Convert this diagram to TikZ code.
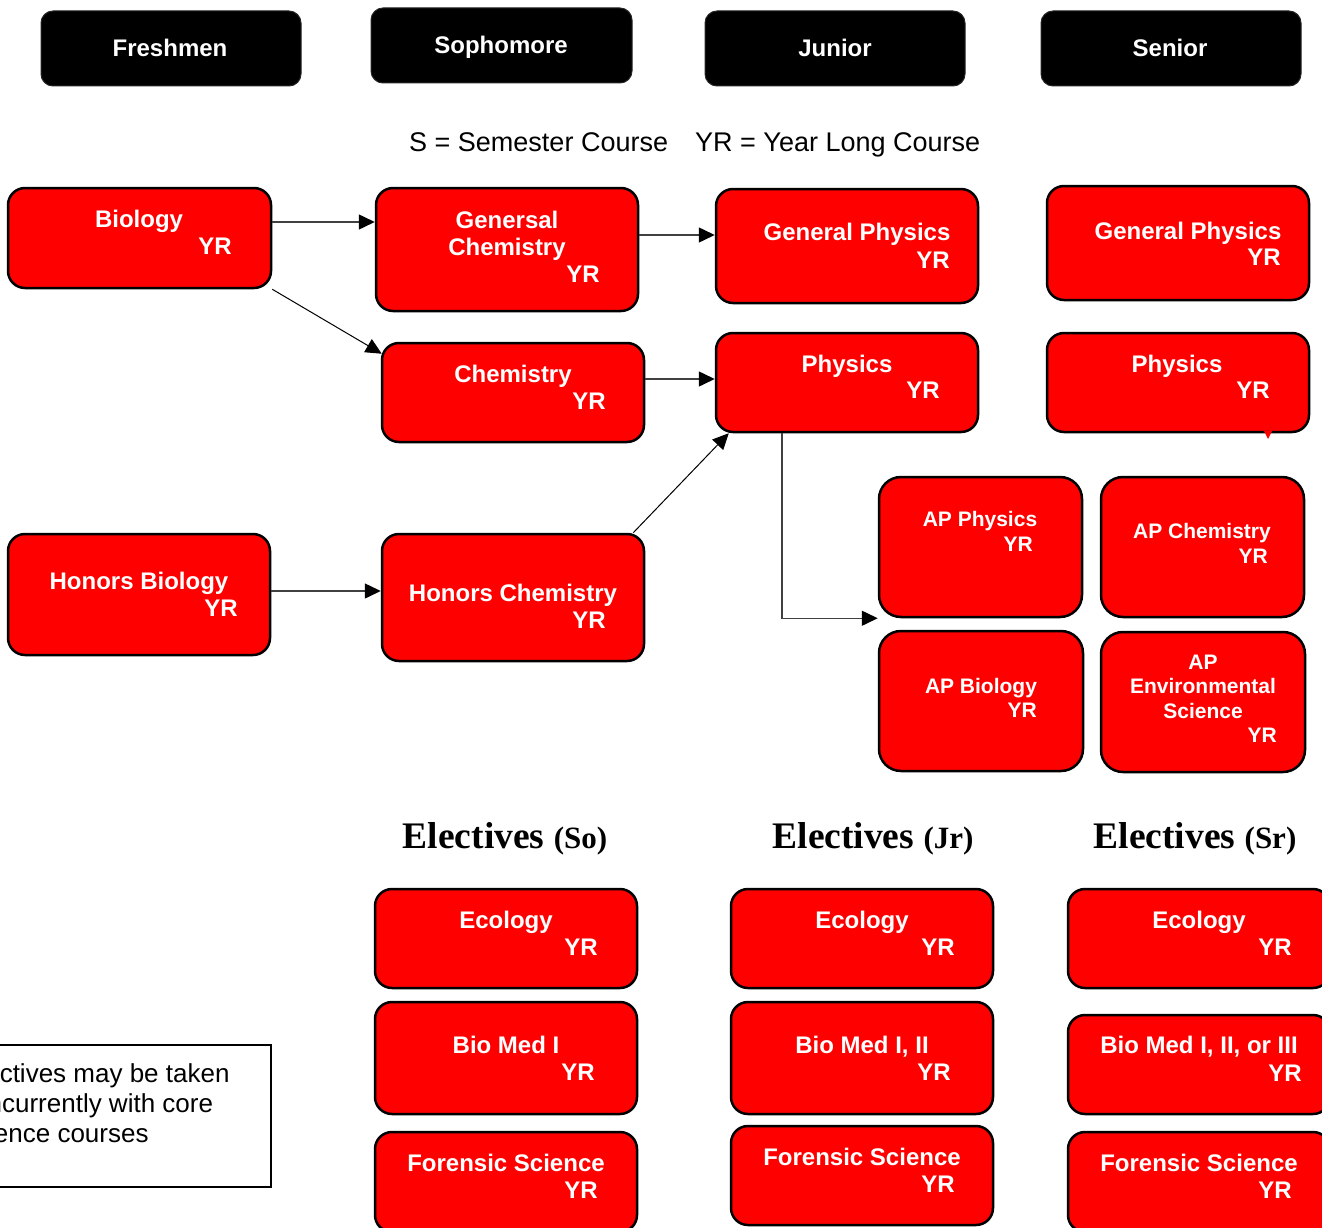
\documentclass[tikz,border=0pt]{standalone}
\usepackage{fontspec}
\setmainfont{Liberation Sans}
\newfontfamily\serifbf{Liberation Serif}
\usetikzlibrary{arrows.meta,fit,calc}
\definecolor{conncol}{RGB}{64,64,64}
\begin{document}
\begin{tikzpicture}[x=1pt,y=-1pt,
  redbox/.style={draw=black,line width=2.5pt,fill=red,rounded corners=17pt,inner sep=0pt},
  hdrbox/.style={fill=black,draw=black!85,line width=1pt,rounded corners=12pt,inner sep=0pt},
  ttl/.style={text=white,font=\bfseries\fontsize{24}{28}\selectfont,anchor=base,inner sep=0pt},
  yr/.style={ttl,anchor=base east},
  apttl/.style={text=white,font=\bfseries\fontsize{21}{25}\selectfont,anchor=base,inner sep=0pt},
  apyr/.style={apttl,anchor=base east},
  legend/.style={font=\fontsize{27}{32}\selectfont,anchor=base west,inner sep=0pt},
  notetxt/.style={font=\fontsize{26}{30}\selectfont,anchor=base west,inner sep=0pt},
  elhead/.style={font=\serifbf\bfseries\fontsize{37.5}{42}\selectfont,anchor=base,inner sep=0pt},
  conn/.style={draw=conncol,line width=1.5pt,-{Triangle[length=16pt,width=15pt,black]}},
  thinconn/.style={draw=black,line width=1pt,-{Triangle[length=16pt,width=15pt,black]}}
]
\useasboundingbox (0,0) rectangle (1322,1228);
\clip (0,0) rectangle (1322,1228);

% headers
\node[hdrbox,fit={(41,11)(301,86)}] (hfr) {};
\node[hdrbox,fit={(371,8)(632,83)}] (hso) {};
\node[hdrbox,fit={(705,11)(965,86)}] (hjr) {};
\node[hdrbox,fit={(1041,11)(1301,86)}] (hsr) {};
\node[ttl] (hfrT) at (170,56.5) {Freshmen};
\node[ttl] (hsoT) at (501,53.5) {Sophomore};
\node[ttl] (hjrT) at (835,56.5) {Junior};
\node[ttl] (hsrT) at (1170,56.5) {Senior};

% legend
\node[legend] (legS) at (409,152) {S = Semester Course};
\node[legend] (legY) at (695,152) {YR = Year Long Course};

% core boxes
\node[redbox,fit={(8,188)(271,288)}] (bio) {};
\node[ttl] (bioT) at (139,227.5) {Biology};
\node[yr] (bioY) at (232,254.5) {YR};

\node[redbox,fit={(376,188)(638,311)}] (gchem) {};
\node[ttl] (gchemT1) at (507,228.5) {Genersal};
\node[ttl] (gchemT2) at (507,255.5) {Chemistry};
\node[yr] (gchemY) at (600,282.5) {YR};

\node[redbox,fit={(716,189)(978,303)}] (gphysj) {};
\node[ttl] (gphysjT) at (857,240.5) {General Physics};
\node[yr] (gphysjY) at (950,268.5) {YR};

\node[redbox,fit={(1047,186)(1309,300)}] (gphyss) {};
\node[ttl] (gphyssT) at (1188,239.5) {General Physics};
\node[yr] (gphyssY) at (1281,265.5) {YR};

\node[redbox,fit={(382,343)(644,442)}] (chem) {};
\node[ttl] (chemT) at (513,382.5) {Chemistry};
\node[yr] (chemY) at (606,409.5) {YR};

\node[redbox,fit={(716,333)(978,432)}] (physj) {};
\node[ttl] (physjT) at (847,372.5) {Physics};
\node[yr] (physjY) at (940,398.5) {YR};

\node[redbox,fit={(1047,333)(1309,432)}] (physs) {};
\node[ttl] (physsT) at (1177,372.5) {Physics};
\node[yr] (physsY) at (1270,398.5) {YR};
\fill[red] (1264,431) -- (1272,431) -- (1268,439) -- cycle;

\node[redbox,fit={(8,534)(270,655)}] (hbio) {};
\node[ttl] (hbioT) at (139,589.5) {Honors Biology};
\node[yr] (hbioY) at (238,616.5) {YR};

\node[redbox,fit={(382,534)(644,661)}] (hchem) {};
\node[ttl] (hchemT) at (513,601.5) {Honors Chemistry};
\node[yr] (hchemY) at (606,628.5) {YR};

% AP boxes
\node[redbox,rounded corners=22pt,fit={(879,477)(1082,617)}] (apphys) {};
\node[apttl] (apphysT) at (980,526.5) {AP Physics};
\node[apyr] (apphysY) at (1033,551.5) {YR};

\node[redbox,rounded corners=22pt,fit={(1101,477)(1304,617)}] (apchem) {};
\node[apttl] (apchemT) at (1202,538.5) {AP Chemistry};
\node[apyr] (apchemY) at (1268,563.5) {YR};

\node[redbox,rounded corners=22pt,fit={(879,631)(1083,771)}] (apbio) {};
\node[apttl] (apbioT) at (981,693.5) {AP Biology};
\node[apyr] (apbioY) at (1037,717.5) {YR};

\node[redbox,rounded corners=22pt,fit={(1101,632)(1305,772)}] (apenv) {};
\node[apttl] (apenvT1) at (1203,669.5) {AP};
\node[apttl] (apenvT2) at (1203,693.5) {Environmental};
\node[apttl] (apenvT3) at (1203,718.5) {Science};
\node[apyr] (apenvY) at (1277,742.5) {YR};

% electives headings
\node[elhead] (elso) at (505,848) {Electives {\fontsize{31}{35}\selectfont(So)}};
\node[elhead] (eljr) at (873,848) {Electives {\fontsize{31}{35}\selectfont(Jr)}};
\node[elhead] (elsr) at (1195,848) {Electives {\fontsize{31}{35}\selectfont(Sr)}};

% electives So
\node[redbox,fit={(375,889)(637,988)}] (soeco) {};
\node[ttl] (soecoT) at (506,928.5) {Ecology};
\node[yr] (soecoY) at (598,955.5) {YR};
\node[redbox,fit={(375,1002)(637,1114)}] (sobio) {};
\node[ttl] (sobioT) at (506,1053.5) {Bio Med I};
\node[yr] (sobioY) at (595,1080.5) {YR};
\node[redbox,fit={(375,1132)(637,1232)}] (sofor) {};
\node[ttl] (soforT) at (506,1171.5) {Forensic Science};
\node[yr] (soforY) at (598,1198.5) {YR};

% electives Jr
\node[redbox,fit={(731,889)(993,988)}] (jreco) {};
\node[ttl] (jrecoT) at (862,928.5) {Ecology};
\node[yr] (jrecoY) at (955,955.5) {YR};
\node[redbox,fit={(731,1002)(993,1114)}] (jrbio) {};
\node[ttl] (jrbioT) at (862,1053.5) {Bio Med I, II};
\node[yr] (jrbioY) at (951,1080.5) {YR};
\node[redbox,fit={(731,1126)(993,1225)}] (jrfor) {};
\node[ttl] (jrforT) at (862,1165.5) {Forensic Science};
\node[yr] (jrforY) at (955,1192.5) {YR};

% electives Sr
\node[redbox,fit={(1068,889)(1330,988)}] (sreco) {};
\node[ttl] (srecoT) at (1199,928.5) {Ecology};
\node[yr] (srecoY) at (1292,955.5) {YR};
\node[redbox,fit={(1068,1015)(1330,1114)}] (srbio) {};
\node[ttl] (srbioT) at (1199,1053.5) {Bio Med I, II, or III};
\node[yr] (srbioY) at (1302,1081.5) {YR};
\node[redbox,fit={(1068,1132)(1330,1232)}] (srfor) {};
\node[ttl] (srforT) at (1199,1171.5) {Forensic Science};
\node[yr] (srforY) at (1292,1198.5) {YR};

% note box
\node[draw=black,line width=2pt,inner sep=0pt,fit={(-60,1045)(271,1187)}] (note) {};
\node[notetxt] (note1) at (-38,1082) {Electives may be taken};
\node[notetxt] (note2) at (-40,1112) {concurrently with core};
\node[notetxt] (note3) at (-38,1142) {science courses};

% connectors
\draw[conn] (bio.east |- 0,222) -- (gchem.west |- 0,222);
\draw[conn] (gchem.east |- 0,235) -- (gphysj.west |- 0,235);
\draw[thinconn] (bio.south east) -- ($(chem.north west)+(1,12)$);
\draw[conn] (chem.east |- 0,379) -- (physj.west |- 0,379);
\draw[conn] (hbio.east |- 0,591) -- (hchem.west |- 0,591);
\draw[thinconn] ($(hchem.north east)+(-12,0)$) -- ($(physj.south west)+(14,0)$);
\draw[conn] (physj.south -| 782,0) |- (apphys.south west);
\end{tikzpicture}
\end{document}
